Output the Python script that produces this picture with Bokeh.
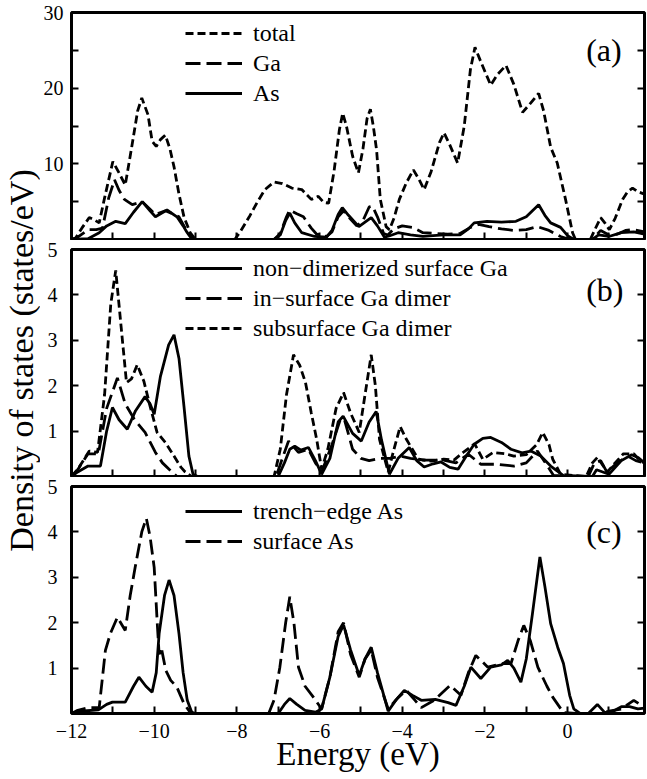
from bokeh.plotting import figure
from bokeh.layouts import column, row
from bokeh.models import Range1d, FixedTicker, LinearAxis, Label, CustomJSTickFormatter
from bokeh.embed import file_html
from bokeh.resources import INLINE

# ---------------- data ----------------
# Panel (a)
a_total_x = [-12.0, -11.9, -11.75, -11.57, -11.45, -11.33, -11.2, -11.0, -10.85, -10.7, -10.55, -10.4, -10.3, -10.15, -10.05, -9.95, -9.85, -9.73, -9.62, -9.52, -9.4, -9.28, -9.13, -9.0, -8.05, -7.9, -7.7, -7.5, -7.32, -7.1, -6.9, -6.67, -6.43, -6.2, -6.03, -5.9, -5.78, -5.65, -5.52, -5.44, -5.35, -5.2, -5.06, -4.95, -4.85, -4.77, -4.7, -4.62, -4.53, -4.39, -4.31, -4.2, -4.07, -3.9, -3.73, -3.6, -3.47, -3.3, -3.1, -2.99, -2.85, -2.66, -2.5, -2.35, -2.24, -2.1, -1.86, -1.7, -1.49, -1.3, -1.09, -0.9, -0.7, -0.58, -0.41, -0.25, -0.05, 0.12, 0.19, 0.55, 0.65, 0.8, 0.9, 1.01, 1.15, 1.33, 1.45, 1.57, 1.7, 1.76, 1.86]
a_total_y = [0.0, 0.2, 1.5, 2.9, 2.6, 2.2, 5.5, 10.3, 8.8, 7.2, 12.0, 17.0, 18.7, 16.5, 13.0, 12.3, 13.2, 13.8, 12.0, 9.6, 6.0, 3.0, 0.9, 0.0, 0.0, 1.2, 3.0, 5.0, 6.6, 7.6, 7.4, 6.8, 6.6, 5.3, 5.7, 4.9, 4.8, 9.0, 14.5, 16.7, 15.0, 11.0, 8.8, 12.0, 16.0, 17.2, 15.0, 11.8, 5.3, 1.7, 1.3, 2.8, 5.3, 7.5, 9.2, 8.0, 6.6, 9.0, 12.8, 14.1, 12.5, 10.1, 15.0, 22.5, 25.4, 23.5, 20.4, 21.8, 23.0, 20.5, 16.8, 18.0, 19.3, 17.0, 12.2, 10.1, 5.3, 0.9, 0.0, 0.0, 1.2, 2.9, 2.2, 1.3, 2.8, 5.3, 6.3, 6.8, 6.3, 6.2, 6.0]

a_ga_x = [-12.0, -11.85, -11.6, -11.4, -11.25, -11.1, -10.96, -10.85, -10.72, -10.53, -10.29, -10.1, -9.97, -9.73, -9.55, -9.4, -9.28, -9.16, -9.04, -7.1, -6.95, -6.8, -6.72, -6.55, -6.39, -6.2, -6.07, -5.83, -5.7, -5.55, -5.42, -5.3, -5.1, -4.95, -4.8, -4.72, -4.6, -4.45, -4.35, -4.2, -4.0, -3.75, -3.5, -3.2, -2.9, -2.6, -2.35, -2.15, -1.9, -1.6, -1.3, -1.0, -0.73, -0.45, -0.17, 0.0, 0.3, 0.6, 0.8, 1.0, 1.2, 1.4, 1.6, 1.86]
a_ga_y = [0.0, 0.3, 1.3, 1.3, 1.5, 5.5, 7.9, 6.5, 5.3, 4.6, 5.0, 4.0, 3.3, 3.8, 3.4, 3.0, 1.8, 0.7, 0.0, 0.0, 0.8, 3.0, 3.9, 3.4, 3.0, 1.5, 0.7, 0.4, 1.0, 3.0, 3.8, 3.0, 1.8, 2.5, 4.3, 4.4, 3.0, 0.8, 0.6, 1.4, 1.8, 1.6, 0.9, 0.8, 0.7, 0.8, 1.6, 2.0, 1.7, 1.4, 1.2, 1.3, 1.7, 1.2, 0.4, 0.1, 0.0, 0.0, 1.2, 0.6, 0.7, 1.2, 1.3, 1.0]

a_as_x = [-12.0, -11.6, -11.33, -11.15, -10.93, -10.7, -10.5, -10.29, -10.1, -9.97, -9.69, -9.45, -9.3, -9.2, -9.08, -7.1, -6.95, -6.82, -6.72, -6.6, -6.43, -6.12, -5.83, -5.7, -5.55, -5.45, -5.3, -5.05, -4.9, -4.75, -4.6, -4.43, -4.3, -4.1, -3.8, -3.5, -3.0, -2.6, -2.4, -2.26, -1.95, -1.6, -1.25, -1.0, -0.85, -0.7, -0.55, -0.41, -0.17, 0.0, 0.15, 0.6, 0.75, 1.0, 1.3, 1.6, 1.86]
a_as_y = [0.0, 0.1, 0.9, 1.8, 2.4, 2.1, 3.6, 5.0, 3.8, 3.0, 3.9, 3.0, 1.8, 0.9, 0.0, 0.0, 0.6, 2.5, 3.5, 2.2, 0.9, 0.4, 0.3, 1.2, 3.3, 4.2, 3.2, 1.7, 2.3, 2.9, 1.8, 0.3, 0.5, 0.9, 0.6, 0.4, 0.6, 0.6, 1.4, 2.2, 2.4, 2.3, 2.4, 3.0, 3.8, 4.6, 3.2, 2.2, 1.6, 0.5, 0.0, 0.0, 0.6, 0.4, 0.9, 1.0, 0.7]

# Panel (b)
b_nd_x = [-12.0, -11.85, -11.6, -11.3, -11.15, -11.01, -10.85, -10.65, -10.45, -10.22, -10.1, -10.0, -9.85, -9.65, -9.52, -9.4, -9.28, -9.16, -9.06, -8.95, -7.0, -6.85, -6.72, -6.6, -6.45, -6.27, -6.1, -5.95, -5.75, -5.55, -5.43, -5.2, -4.99, -4.8, -4.63, -4.5, -4.31, -4.1, -3.83, -3.65, -3.47, -3.25, -3.06, -2.85, -2.65, -2.45, -2.26, -2.05, -1.86, -1.6, -1.37, -1.1, -0.89, -0.65, -0.41, -0.1, 0.6, 0.7, 0.85, 1.0, 1.3, 1.55, 1.7, 1.86]
b_nd_y = [0.0, 0.1, 0.23, 0.23, 1.0, 1.52, 1.25, 1.04, 1.45, 1.76, 1.6, 1.37, 2.2, 2.9, 3.12, 2.6, 1.55, 0.45, 0.05, 0.0, 0.0, 0.3, 0.6, 0.67, 0.58, 0.64, 0.35, 0.05, 0.4, 1.2, 1.33, 0.95, 0.78, 1.2, 1.43, 0.8, 0.05, 0.4, 0.64, 0.35, 0.21, 0.28, 0.32, 0.2, 0.16, 0.45, 0.71, 0.84, 0.86, 0.75, 0.6, 0.52, 0.56, 0.45, 0.23, 0.02, 0.0, 0.15, 0.1, 0.05, 0.35, 0.48, 0.42, 0.3]

b_in_x = [-12.0, -11.85, -11.6, -11.35, -11.15, -10.89, -10.7, -10.48, -10.22, -9.97, -9.8, -9.64, -9.45, -7.05, -6.9, -6.75, -6.51, -6.27, -6.1, -5.95, -5.7, -5.5, -5.4, -5.2, -5.0, -4.8, -4.55, -4.3, -4.05, -3.8, -3.5, -3.0, -2.7, -2.4, -2.1, -1.7, -1.3, -1.0, -0.73, -0.5, -0.34, 0.5, 0.65, 0.8, 0.95, 1.2, 1.45, 1.65, 1.86]
b_in_y = [0.0, 0.15, 0.5, 0.5, 1.5, 2.17, 1.6, 1.26, 0.97, 0.53, 0.3, 0.16, 0.0, 0.0, 0.4, 0.78, 0.53, 0.6, 0.3, 0.1, 0.7, 1.25, 1.26, 0.6, 0.4, 0.35, 0.4, 0.4, 0.45, 0.4, 0.36, 0.36, 0.3, 0.49, 0.27, 0.27, 0.23, 0.3, 0.56, 0.25, 0.02, 0.0, 0.3, 0.35, 0.1, 0.3, 0.45, 0.35, 0.3]

b_sub_x = [-12.0, -11.85, -11.57, -11.37, -11.2, -11.05, -10.93, -10.8, -10.67, -10.55, -10.41, -10.25, -10.1, -9.93, -9.73, -9.52, -9.35, -9.25, -9.1, -7.1, -6.95, -6.8, -6.63, -6.48, -6.34, -6.2, -6.07, -5.95, -5.8, -5.6, -5.42, -5.25, -5.04, -4.9, -4.75, -4.65, -4.55, -4.34, -4.2, -4.05, -3.9, -3.61, -3.3, -3.0, -2.75, -2.5, -2.25, -2.05, -1.8, -1.5, -1.3, -1.0, -0.75, -0.6, -0.45, -0.36, -0.17, 0.45, 0.6, 0.72, 0.85, 0.96, 1.15, 1.35, 1.6, 1.75, 1.86]
b_sub_y = [0.0, 0.16, 0.56, 0.53, 1.8, 3.8, 4.54, 3.3, 2.07, 2.15, 2.46, 2.1, 1.55, 0.97, 0.75, 0.45, 0.2, 0.1, 0.0, 0.0, 0.6, 1.8, 2.68, 2.45, 2.07, 1.4, 0.82, 0.16, 0.6, 1.5, 1.85, 1.4, 0.97, 1.8, 2.68, 2.0, 0.82, 0.1, 0.6, 1.1, 0.82, 0.38, 0.34, 0.38, 0.36, 0.55, 0.72, 0.38, 0.53, 0.5, 0.45, 0.48, 0.7, 0.97, 0.7, 0.38, 0.05, 0.0, 0.3, 0.42, 0.25, 0.1, 0.3, 0.5, 0.5, 0.35, 0.3]

# Panel (c)
c_tr_x = [-12.0, -11.8, -11.35, -11.15, -11.01, -10.7, -10.5, -10.37, -10.2, -10.05, -9.95, -9.88, -9.75, -9.64, -9.52, -9.4, -9.3, -9.2, -9.08, -7.0, -6.85, -6.72, -6.55, -6.35, -6.1, -5.95, -5.75, -5.55, -5.42, -5.25, -5.04, -4.9, -4.75, -4.6, -4.34, -4.15, -3.95, -3.75, -3.54, -3.2, -2.89, -2.7, -2.5, -2.34, -2.1, -1.86, -1.6, -1.45, -1.3, -1.13, -1.0, -0.85, -0.67, -0.55, -0.41, -0.24, -0.1, 0.05, 0.15, 0.3, 0.5, 0.72, 0.9, 1.1, 1.3, 1.5, 1.7, 1.86]
c_tr_y = [0.0, 0.05, 0.08, 0.2, 0.25, 0.25, 0.6, 0.8, 0.6, 0.47, 0.9, 1.76, 2.6, 2.94, 2.6, 1.76, 0.9, 0.29, 0.0, 0.0, 0.2, 0.33, 0.2, 0.07, 0.03, 0.1, 0.8, 1.7, 1.95, 1.4, 0.84, 1.2, 1.46, 0.9, 0.05, 0.3, 0.51, 0.4, 0.29, 0.31, 0.24, 0.18, 0.6, 1.02, 0.77, 1.02, 1.07, 1.17, 1.0, 0.69, 1.2, 2.2, 3.45, 2.8, 1.98, 1.46, 1.1, 0.4, 0.1, 0.0, 0.0, 0.2, 0.02, 0.05, 0.15, 0.15, 0.1, 0.12]

c_sf_x = [-12.0, -11.85, -11.57, -11.33, -11.18, -11.06, -10.89, -10.7, -10.58, -10.46, -10.3, -10.19, -10.1, -10.0, -9.92, -9.88, -9.83, -9.72, -9.6, -9.45, -9.28, -9.15, -9.0, -7.23, -7.1, -6.96, -6.82, -6.72, -6.62, -6.51, -6.35, -6.15, -5.95, -5.75, -5.55, -5.42, -5.25, -5.04, -4.9, -4.75, -4.6, -4.34, -4.1, -3.9, -3.7, -3.54, -3.23, -2.84, -2.58, -2.4, -2.22, -1.93, -1.6, -1.37, -1.2, -1.06, -0.9, -0.72, -0.5, -0.36, -0.1, 0.2, 0.8, 1.0, 1.3, 1.6, 1.75, 1.86]
c_sf_y = [0.0, 0.07, 0.13, 0.13, 1.39, 1.76, 2.12, 1.83, 2.6, 3.22, 4.0, 4.3, 3.9, 3.22, 1.9, 1.3, 1.46, 0.95, 0.73, 0.58, 0.22, 0.05, 0.0, 0.0, 0.3, 1.02, 2.0, 2.57, 2.0, 1.02, 0.6, 0.36, 0.1, 0.8, 1.8, 2.0, 1.3, 0.8, 1.2, 1.4, 0.8, 0.1, 0.35, 0.51, 0.3, 0.13, 0.29, 0.62, 0.4, 0.9, 1.28, 1.02, 1.1, 1.1, 1.6, 1.94, 1.6, 1.02, 0.6, 0.36, 0.02, 0.0, 0.0, 0.05, 0.1, 0.29, 0.2, 0.15]

# axes / ticks
X_MIN, X_MAX = -12.0, 1.86
X_TICKS = [-12, -11, -10, -9, -8, -7, -6, -5, -4, -3, -2, -1, 0, 1]
X_TICK_LABELS = {-12: "−12", -10: "−10", -8: "−8", -6: "−6", -4: "−4", -2: "−2", 0: "0"}
A_YMAX = 30
A_YTICKS = [5, 10, 15, 20, 25, 30]
A_YLABELS = {10: "10", 20: "20", 30: "30"}
BC_YMAX = 5
BC_YTICKS = [1, 2, 3, 4, 5]
BC_YLABELS = {1: "1", 2: "2", 3: "3", 4: "4", 5: "5"}
Y_TITLE = "Density of states (states/eV)"
X_TITLE = "Energy (eV)"

FONT = "Liberation Serif"
FW, FH = 573, 227
BL = 29          # left border of each panel
TW = 40          # width of the y-title strip
TOTAL_H = 776
SHORT = "8 4"
LONG = "15 6"
LW = 2.8


def blank():
    return CustomJSTickFormatter(code="return ''")


def style_axis(ax, labelled):
    ax.axis_line_color = None
    ax.major_tick_in = 7
    ax.major_tick_out = 0
    ax.minor_tick_in = 0
    ax.minor_tick_out = 0
    ax.major_tick_line_width = 2
    ax.major_tick_line_color = "black"
    ax.major_label_text_font = FONT
    ax.major_label_text_color = "black"
    if labelled:
        ax.major_label_text_font_size = "20px"
    else:
        ax.major_label_text_font_size = "1px"
        ax.major_label_standoff = 0


def make_fig(ymax, yticks, ylabels, top, bottom, xlabels, ystandoff):
    p = figure(frame_width=FW, frame_height=FH,
               x_range=Range1d(X_MIN, X_MAX), y_range=Range1d(0, ymax),
               output_backend="svg", toolbar_location=None,
               min_border_left=BL, min_border_right=4,
               min_border_top=top, min_border_bottom=bottom)
    p.grid.visible = False
    p.outline_line_color = "black"
    p.outline_line_width = 3
    p.outline_line_alpha = 1.0
    p.background_fill_color = "white"

    xa = p.xaxis[0]
    xa.ticker = FixedTicker(ticks=X_TICKS)
    style_axis(xa, xlabels)
    if xlabels:
        xa.major_label_overrides = {t: X_TICK_LABELS.get(t, "") for t in X_TICKS}
        xa.major_label_standoff = 10
        xa.axis_label = X_TITLE
        xa.axis_label_text_font = FONT
        xa.axis_label_text_font_size = "33px"
        xa.axis_label_text_font_style = "normal"
        xa.axis_label_text_color = "black"
        xa.axis_label_standoff = -5
    else:
        xa.formatter = blank()

    ya = p.yaxis[0]
    ya.ticker = FixedTicker(ticks=yticks)
    style_axis(ya, True)
    ya.major_label_overrides = {t: ylabels.get(t, "") for t in yticks}
    ya.major_label_standoff = ystandoff

    ra = LinearAxis(ticker=FixedTicker(ticks=yticks), formatter=blank())
    style_axis(ra, False)
    p.add_layout(ra, "right")
    return p


def style_legend(p, x, top_off, n):
    lg = p.legend[0]
    lg.label_text_font = FONT
    lg.label_text_font_size = "24px"
    lg.label_text_color = "black"
    lg.glyph_width = 57
    lg.glyph_height = 28
    lg.label_height = 28
    lg.label_standoff = 11
    lg.spacing = 2
    lg.padding = 0
    lg.margin = 0
    lg.border_line_color = None
    lg.background_fill_alpha = 0
    h = n * 28 + (n - 1) * 2
    lg.location = (x, FH - top_off - h)


def panel_label(p, y, txt):
    p.add_layout(Label(x=0.45, y=y, text=txt, text_font=FONT, text_font_size="32px",
                       text_baseline="middle", text_align="left", text_color="black"))


# ---------- panel (a)
pa = make_fig(A_YMAX, A_YTICKS, A_YLABELS, 12, 1, False, 8)
pa.line(a_total_x, a_total_y, line_color="black", line_width=LW, line_dash=SHORT, legend_label="total")
pa.line(a_ga_x, a_ga_y, line_color="black", line_width=LW, line_dash=LONG, legend_label="Ga")
pa.line(a_as_x, a_as_y, line_color="black", line_width=LW, legend_label="As")
style_legend(pa, 114, 7, 3)
panel_label(pa, 25.1, "(a)")

# ---------- panel (b)
pb = make_fig(BC_YMAX, BC_YTICKS, BC_YLABELS, 9, 1, False, 14)
pb.line(b_nd_x, b_nd_y, line_color="black", line_width=LW, legend_label="non−dimerized surface Ga")
pb.line(b_in_x, b_in_y, line_color="black", line_width=LW, line_dash=LONG, legend_label="in−surface Ga dimer")
pb.line(b_sub_x, b_sub_y, line_color="black", line_width=LW, line_dash=SHORT, legend_label="subsurface Ga dimer")
style_legend(pb, 114, 5, 3)
panel_label(pb, 4.1, "(b)")

# ---------- panel (c)
pc = make_fig(BC_YMAX, BC_YTICKS, BC_YLABELS, 9, 5, True, 14)
pc.line(c_tr_x, c_tr_y, line_color="black", line_width=LW, legend_label="trench−edge As")
pc.line(c_sf_x, c_sf_y, line_color="black", line_width=LW, line_dash=LONG, legend_label="surface As")
style_legend(pc, 114, 11, 2)
panel_label(pc, 4.0, "(c)")

# ---------- y title strip
tf = figure(width=TW, height=TOTAL_H, x_range=Range1d(0, TW), y_range=Range1d(0, TOTAL_H),
            x_axis_type=None, y_axis_type=None, output_backend="svg", toolbar_location=None,
            min_border=0)
tf.grid.visible = False
tf.outline_line_color = None
tf.add_layout(Label(x=21, y=TOTAL_H - 360, text=Y_TITLE, angle=90, angle_units="deg",
                    text_font=FONT, text_font_size="34px", text_color="black",
                    text_align="center", text_baseline="middle"))

layout = row(tf, column(pa, pb, pc, spacing=0), spacing=0)
open("out.html", "w").write(file_html(layout, INLINE))
